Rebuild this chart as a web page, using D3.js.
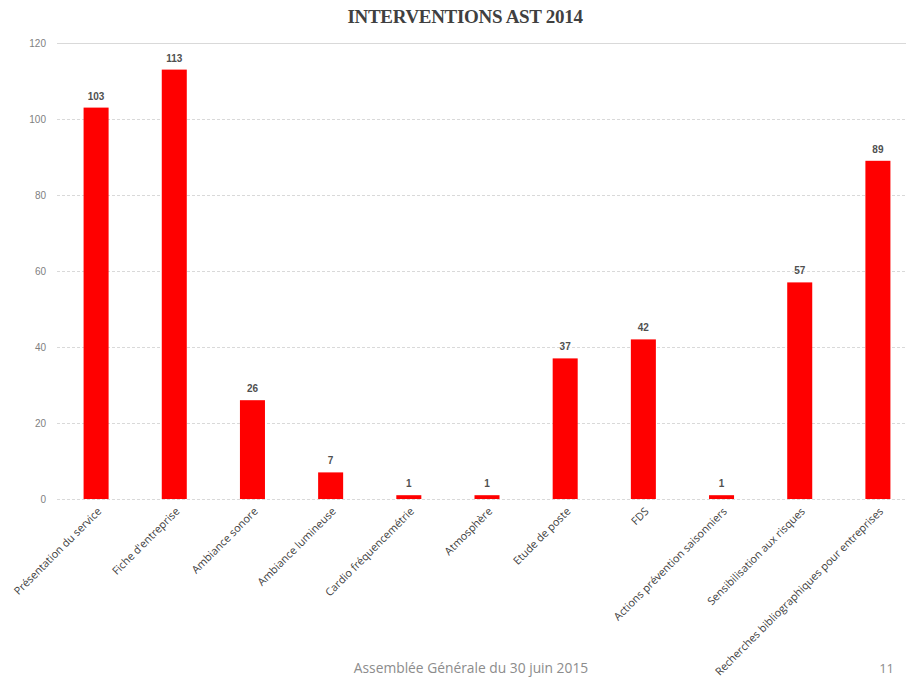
<!DOCTYPE html>
<html>
<head>
<meta charset="utf-8">
<script src="https://cdn.jsdelivr.net/npm/d3@7"></script>
<style>
  html, body { margin: 0; padding: 0; background: #fff; }
  svg { display: block; }
</style>
</head>
<body>
<svg id="chart" width="909" height="681"></svg>
<script>
// Interventions AST 2014 — nombre d'interventions par type
const categories = [
  "Présentation du service",
  "Fiche d'entreprise",
  "Ambiance sonore",
  "Ambiance lumineuse",
  "Cardio fréquencemétrie",
  "Atmosphère",
  "Etude de poste",
  "FDS",
  "Actions prévention saisonniers",
  "Sensibilisation aux risques",
  "Recherches bibliographiques pour entreprises"
];
const values = [103, 113, 26, 7, 1, 1, 37, 42, 1, 57, 89];
const yTicks = [0, 20, 40, 60, 80, 100, 120];

const svg = d3.select("#chart");

const x = d3.scaleBand()
  .domain(categories)
  .range([57, 917])
  .paddingInner(0.68)
  .paddingOuter(0.34);

const y = d3.scaleLinear().domain([0, 120]).range([499, 43]);

// Gridlines
svg.append("g")
  .selectAll("line")
  .data(yTicks)
  .join("line")
  .attr("x1", 57)
  .attr("x2", 906)
  .attr("y1", d => y(d) + 0.5)
  .attr("y2", d => y(d) + 0.5)
  .attr("stroke", "#d9d9d9")
  .attr("stroke-width", 1)
  .attr("stroke-dasharray", d => (d === 120 ? null : "3,2"));

// Y axis labels
const yAxis = d3.axisLeft(y).tickValues(yTicks).tickSize(0).tickPadding(0);
const yg = svg.append("g")
  .attr("transform", "translate(46,0)")
  .call(yAxis);
yg.select(".domain").remove();
yg.selectAll("text")
  .attr("fill", "#7f7f7f")
  .attr("font-family", "'Liberation Sans', Arial, sans-serif")
  .attr("font-size", 10)
  .attr("dy", "0.32em");

// Bars
svg.append("g")
  .selectAll("rect")
  .data(values)
  .join("rect")
  .attr("x", (d, i) => x(categories[i]))
  .attr("y", d => y(d))
  .attr("width", x.bandwidth())
  .attr("height", d => y(0) - y(d))
  .attr("fill", "#ff0000");

// Value labels
svg.append("g")
  .selectAll("text")
  .data(values)
  .join("text")
  .attr("x", (d, i) => x(categories[i]) + x.bandwidth() / 2)
  .attr("y", d => y(d) - 8)
  .attr("text-anchor", "middle")
  .attr("font-family", "'Liberation Sans', Arial, sans-serif")
  .attr("font-size", 10)
  .attr("font-weight", "bold")
  .attr("fill", "#505050")
  .text(d => d);

// Category labels, rotated
const xAxis = d3.axisBottom(x).tickSize(0).tickPadding(0);
const xg = svg.append("g")
  .attr("transform", `translate(0,${y(0)})`)
  .call(xAxis);
xg.select(".domain").remove();
xg.selectAll("text")
  .attr("fill", "#404040")
  .attr("font-family", "'Open Sans', 'Liberation Sans', sans-serif")
  .attr("font-size", 10.8)
  .attr("text-anchor", "end")
  .attr("dy", 0)
  .attr("transform", "translate(6,13) rotate(-45)");

// Title
svg.append("text")
  .attr("x", 465)
  .attr("y", 23)
  .attr("text-anchor", "middle")
  .attr("font-family", "'Liberation Serif', 'Times New Roman', serif")
  .attr("font-weight", "bold")
  .attr("font-size", 19)
  .attr("letter-spacing", -0.3)
  .attr("fill", "#404040")
  .text("INTERVENTIONS AST 2014");

// Footer
svg.append("text")
  .attr("x", 471)
  .attr("y", 673)
  .attr("text-anchor", "middle")
  .attr("font-family", "'Open Sans', 'Liberation Sans', sans-serif")
  .attr("font-size", 13.8)
  .attr("fill", "#8c8c8c")
  .text("Assemblée Générale du 30 juin 2015");

svg.append("text")
  .attr("x", 894)
  .attr("y", 673)
  .attr("text-anchor", "end")
  .attr("font-family", "'Open Sans', 'Liberation Sans', sans-serif")
  .attr("font-size", 13)
  .attr("fill", "#8c8c8c")
  .text("11");
</script>
</body>
</html>
